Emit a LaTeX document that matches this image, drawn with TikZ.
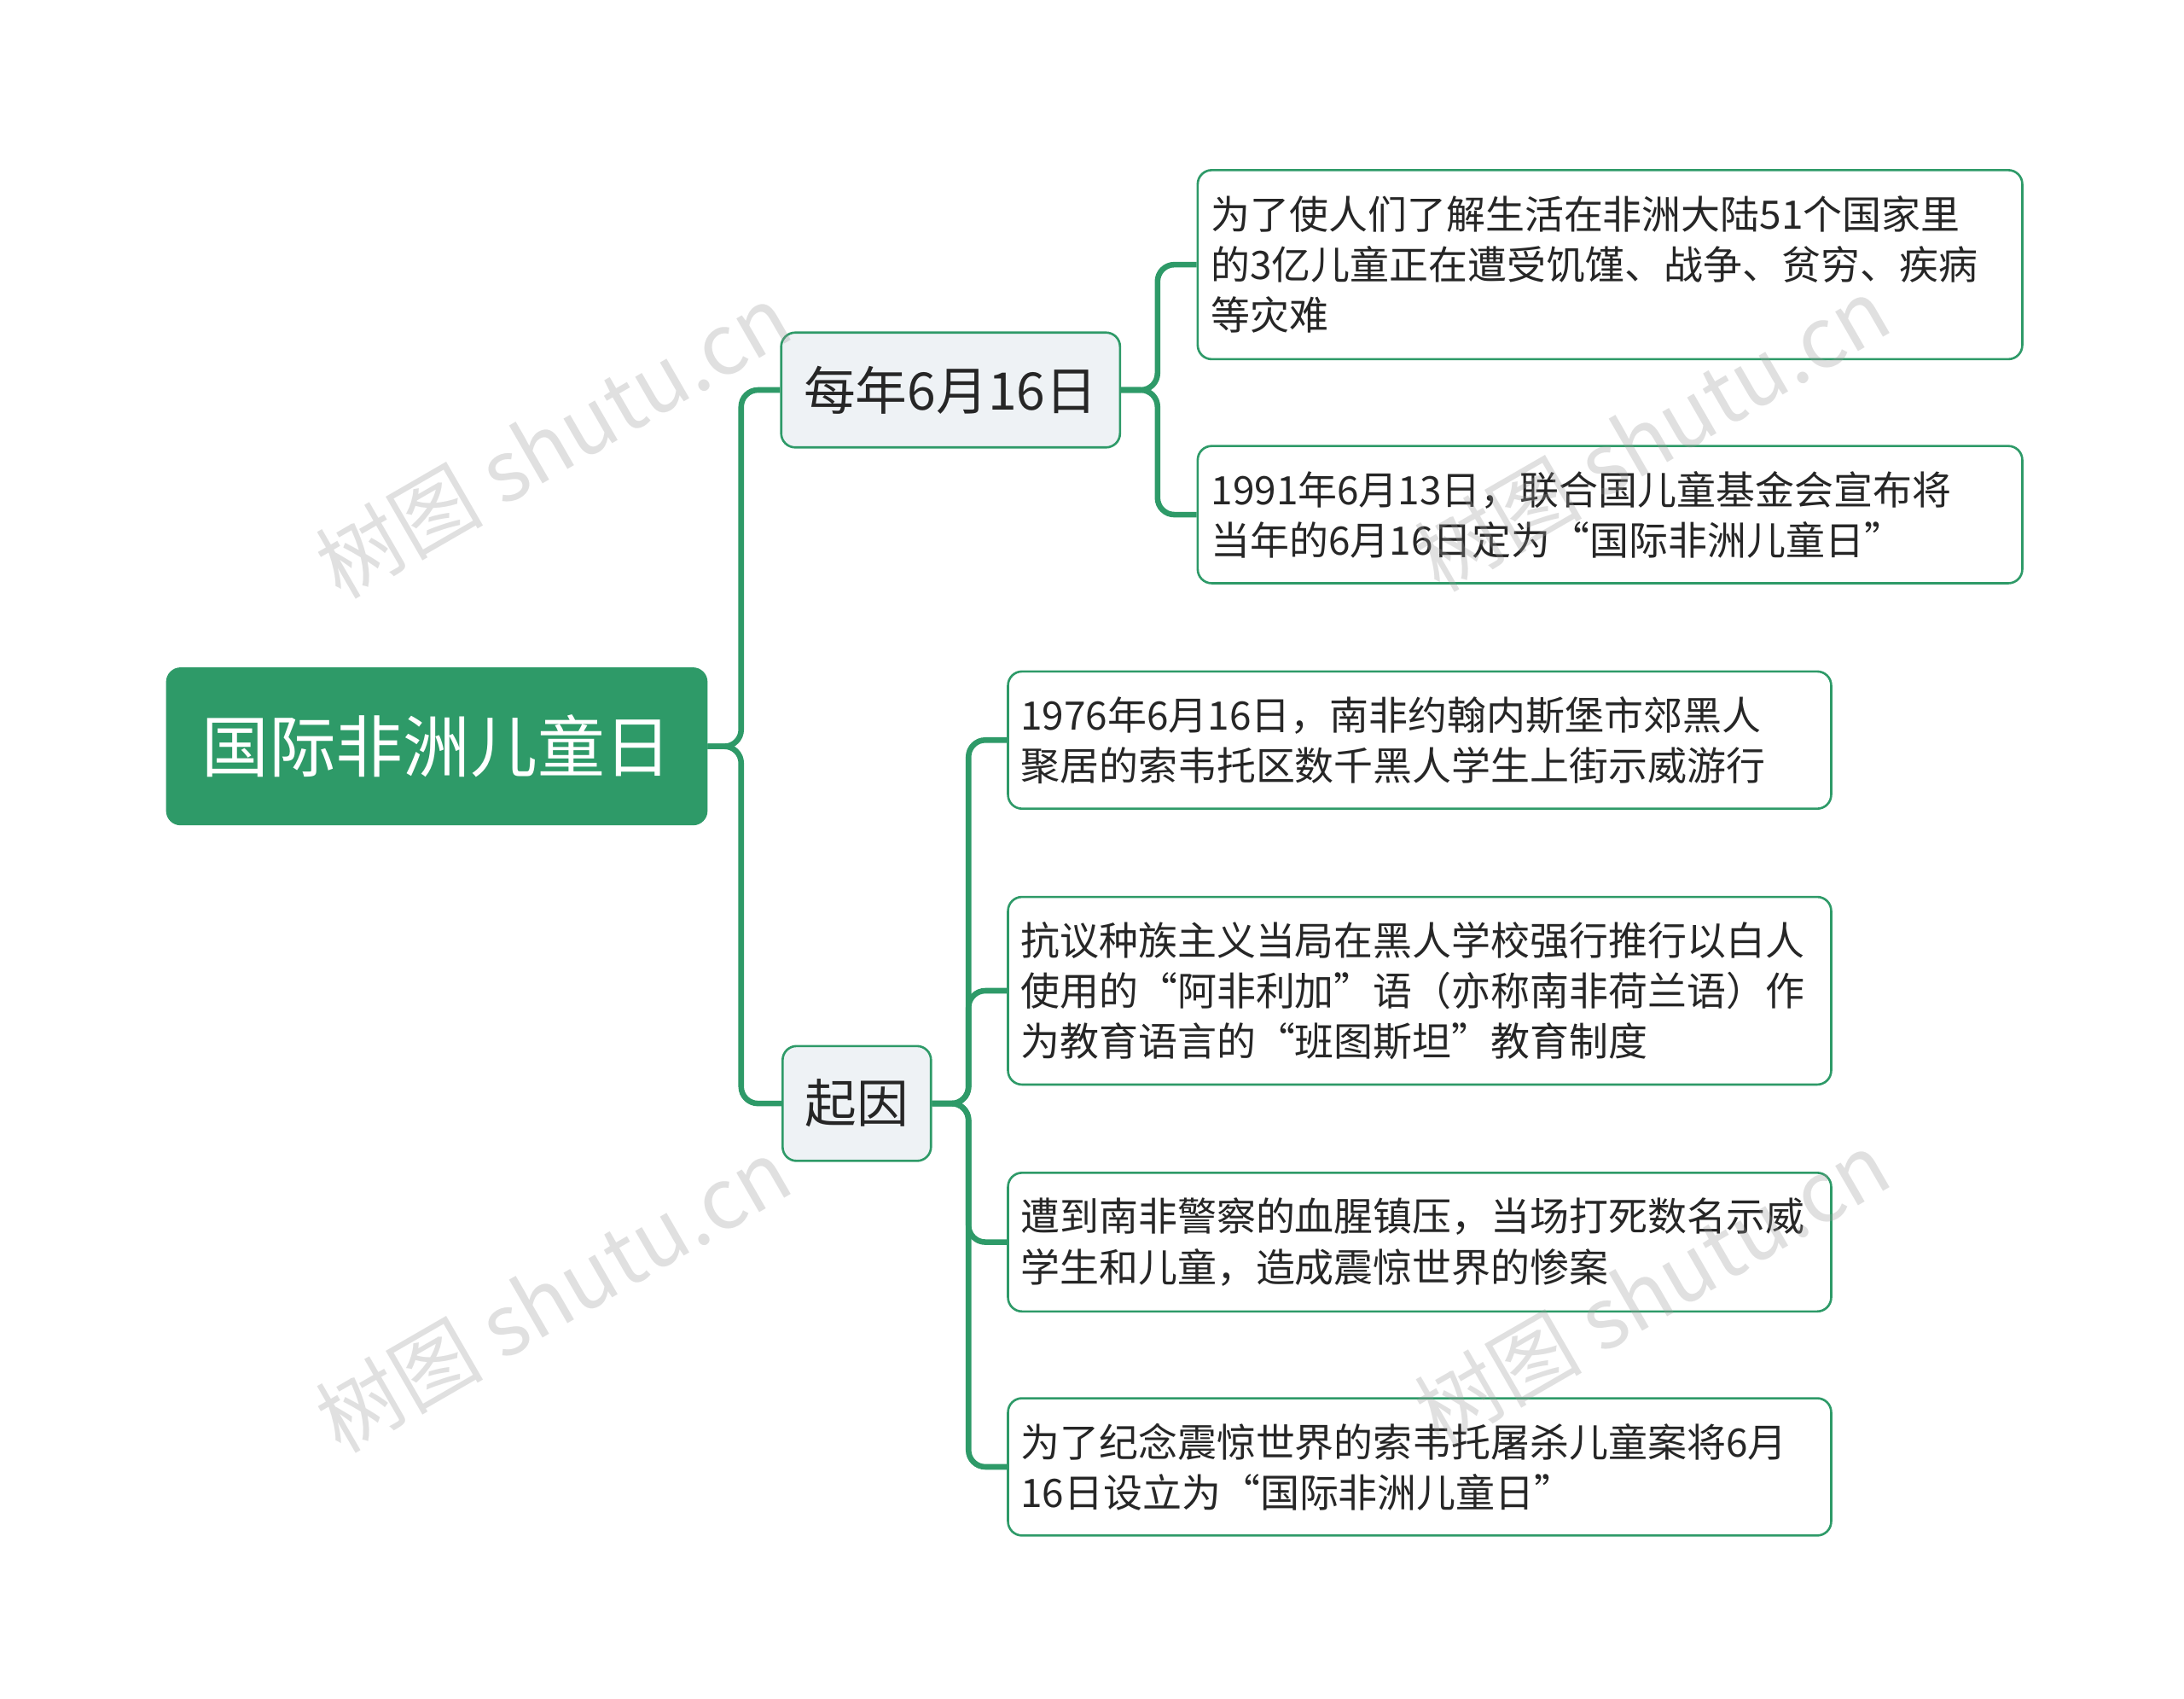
\documentclass[tikz,border=0pt]{standalone}
\usepackage{fontspec}
\newfontfamily\cjk{Noto Sans CJK SC}
\usetikzlibrary{positioning}
\definecolor{gr}{HTML}{2E9A68}
\definecolor{bf}{HTML}{EEF2F5}
\begin{document}
\begin{tikzpicture}[x=0.5pt,y=-0.5pt,
 rootbox/.style={fill=gr,draw=gr,rounded corners=5pt,text=white,font=\cjk\fontsize{24}{28}\selectfont,minimum width=193pt,minimum height=56pt,inner sep=0pt},
 brbox/.style={fill=bf,draw=gr,line width=0.8pt,rounded corners=5pt,text=black!85,font=\cjk\fontsize{18.5}{20}\selectfont,minimum height=41pt,inner sep=0pt},
 leafbox/.style={fill=white,draw=gr,line width=0.8pt,rounded corners=5pt,text=black!85,font=\cjk\fontsize{14}{18}\selectfont,align=left,inner sep=0pt},
 conn/.style={draw=gr,line width=2pt,rounded corners=6pt},
 wm/.style={text=black!40,opacity=0.3,rotate=30,font=\cjk\fontsize{30}{32}\selectfont}]
\useasboundingbox (0,0) rectangle (1560,1213);
\node[rootbox] (root) at (312,533) {国际非洲儿童日};
\node[brbox,minimum width=121pt] (b1) at (679,278.5) {每年6月16日};
\node[brbox,minimum width=53pt] (b2) at (612,788) {起因};
\node[leafbox,minimum width=294.5pt,minimum height=67.5pt,text width=285pt] (l1) at (1150,189) {为了使人们了解生活在非洲大陆51个国家里\\的3亿儿童正在遭受饥馑、战争、贫穷、疾病\\等灾难};
\node[leafbox,minimum width=294.5pt,minimum height=49pt,text width=285pt] (l2) at (1150,367.5) {1991年6月13日，联合国儿童基金会宣布将\\当年的6月16日定为“国际非洲儿童日”};
\node[leafbox,minimum width=294pt,minimum height=49pt,text width=285pt] (l3) at (1014,528.5) {1976年6月16日，南非约翰内斯堡市郊黑人\\聚居的索韦托区数千黑人学生上街示威游行};
\node[leafbox,minimum width=294pt,minimum height=67pt,text width=285pt] (l4) at (1014,707.5) {抗议种族主义当局在黑人学校强行推行以白人\\使用的“阿非利加”语（亦称南非荷兰语）作\\为教育语言的“班图斯坦”教育制度};
\node[leafbox,minimum width=294pt,minimum height=49.5pt,text width=285pt] (l5) at (1014,887) {遭到南非警察的血腥镇压，当场打死数名示威\\学生和儿童，造成震惊世界的惨案};
\node[leafbox,minimum width=294pt,minimum height=49pt,text width=285pt] (l6) at (1014,1047.5) {为了纪念震惊世界的索韦托屠杀儿童案将6月\\16日设立为“国际非洲儿童日”};
\draw[conn] (root.east) -- ++(24,0) |- (b1.west);
\draw[conn] (root.east) -- ++(24,0) |- (b2.west);
\foreach \l in {l1,l2} \draw[conn] (b1.east) -- ++(26,0) |- (\l.west);
\foreach \l in {l3,l4,l5,l6} \draw[conn] (b2.east) -- ++(26,0) |- (\l.west);
\node[wm] at (395,315) {树图 shutu.cn};
\node[wm] at (395,925) {树图 shutu.cn};
\node[wm] at (1180,310) {树图 shutu.cn};
\node[wm] at (1180,920) {树图 shutu.cn};
\end{tikzpicture}
\end{document}
